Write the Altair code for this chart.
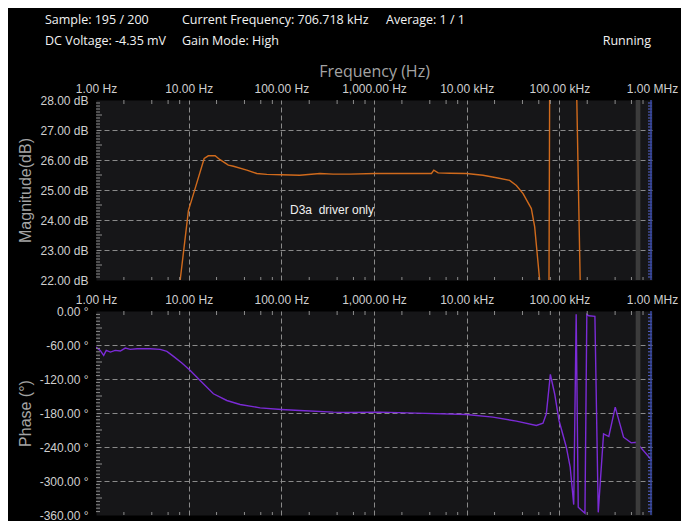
import altair as alt
import pandas as pd
import numpy as np

# ---------------- data ----------------
mag_freq = [6.2, 8.1, 9.95, 11.3, 14.7, 16.3, 19.3, 21.8, 26.8, 30.4, 42.4, 54.3, 69.6,
            100, 158, 261, 363, 550, 1020, 1610, 2880, 4170, 4420, 4920, 6580, 9950,
            15000, 21000, 29100, 34400, 40600, 49900, 54200, 61300, 66000, 76000,
            81000, 140000, 185000, 300000, 1000000]
mag_db = [19.0, 22.0, 24.32, 24.88, 26.05, 26.14, 26.14, 26.01, 25.83, 25.79, 25.66, 25.55, 25.52,
          25.51, 25.49, 25.55, 25.53, 25.53, 25.55, 25.55, 25.55, 25.55, 25.66, 25.57, 25.56, 25.55,
          25.49, 25.41, 25.32, 25.15, 24.88, 24.38, 23.77, 22.0, 18.0, 15.0,
          40.0, 35.0, 15.0, 10.0, 8.0]

phase_freq = [1.0, 1.11, 1.21, 1.29, 1.43, 1.61, 1.83, 2.07, 2.34, 2.77,
              3.85, 4.93, 5.82, 6.86, 8.45, 10.4, 13.3, 18.5, 25.8, 35.9,
              59, 100, 158, 363, 550, 1160, 2880, 9950, 19200, 34400,
              56500, 66600, 72400, 80000, 89000, 99200, 119000, 131000, 143000, 152000,
              160000, 189000, 198000, 208000, 242000, 263000, 300000, 342000, 401000, 493000,
              597000, 676000, 1000000]
phase_deg = [-63.6, -69.5, -78.3, -69.5, -72.5, -69.5, -70.7, -65.4, -67.7, -66.6,
             -66.6, -67.7, -71.3, -80.1, -91.9, -104.9, -122.5, -146.1, -157.9, -165.0,
             -170.9, -173.8, -175.6, -178.5, -179.1, -178.5, -180.3, -182.6, -187.3, -194.4,
             -202.0, -198.0, -181.5, -111.9, -146.0, -193.2, -240.4, -275.7, -341.6, -5.9,
             -346.4, -357.0, -5.9, -8.3, -9.4, -355.3, -216.8, -221.5, -169.7, -222.7,
             -232.7, -231.5, -263.9]

x_tick_values = [1, 10, 100, 1000, 10000, 100000, 1000000]
x_tick_labels = ["1.00 Hz", "10.00 Hz", "100.00 Hz", "1,000.00 Hz", "10.00 kHz", "100.00 kHz", "1.00 MHz"]
mag_ticks = [22, 23, 24, 25, 26, 27, 28]
phase_ticks = [-360, -300, -240, -180, -120, -60, 0]
current_freq = [706718]

note_text = ["D3a\u00a0 driver only"]
note_freq = [124]
note_db = [24.33]

header_row1 = ["Sample: 195 / 200", "Current Frequency: 706.718 kHz", "Average: 1 / 1"]
header_row2 = ["DC Voltage: -4.35 mV", "Gain Mode: High"]
status_text = ["Running"]

# ---------------- styling ----------------
W = 556
H_MAG = 180
H_PH = 204
PLOT_BG = "#161618"
GRID = "#8a8a8a"
TICK = "#8c8c8c"
LABEL = "#cfcfcf"
TITLE = "#a4a4a4"
ORANGE = "#d06a1c"
PURPLE = "#7b2bd6"
BLUE = "#5464d0"
MARK = "#3c3c3c"
AX_FONT = "Liberation Sans"
HD_FONT = "Open Sans"

xscale = alt.Scale(type="log", domain=[1, 1000000], nice=False)
label_expr = "[" + ",".join("'%s'" % s for s in x_tick_labels) + "][round(log(datum.value)/LN10)]"

x_minor = [m * 10 ** k for k in range(6) for m in (2, 4, 6, 8)]


def x_axis(with_title):
    kw = dict(orient="top", values=x_tick_values, tickCount=20, labelExpr=label_expr, ticks=False, domain=False,
              grid=True, gridColor=GRID, gridDash=[5, 3], gridWidth=1,
              gridOpacity={"condition": {"test": "datum.value < 2 || datum.value > 500000", "value": 0}, "value": 1},
              labelColor=LABEL, labelFont=AX_FONT, labelFontSize=12, labelPadding=5,
              labelFlush=False, labelOverlap=False)
    if with_title:
        kw.update(title="Frequency (Hz)", titleColor=TITLE, titleFont=HD_FONT, titleFontSize=16,
                  titleFontWeight="normal", titlePadding=3)
    return alt.Axis(**kw)


def y_axis(values, label_expr_y, title, lo, hi):
    return alt.Axis(values=values, tickCount=20, labelExpr=label_expr_y, ticks=False, domain=False,
                    grid=True, gridColor=GRID, gridDash=[5, 3], gridWidth=1,
                    gridOpacity={"condition": {"test": "datum.value <= %s || datum.value >= %s" % (lo, hi), "value": 0}, "value": 1},
                    labelColor=LABEL, labelFont=AX_FONT, labelFontSize=12, labelPadding=8,
                    labelOverlap=False, labelFlush=False,
                    title=title, titleColor=TITLE, titleFont=AX_FONT, titleFontSize=16,
                    titleFontWeight="normal", titlePadding=6)


def decorations(yscale, lo, hi, step, long_every, H):
    n = int(round((hi - lo) / step))
    vals = [round(lo + i * step, 3) for i in range(1, n)]
    major_step = (hi - lo) / 6.0
    short = [v for v in vals if abs(v / major_step - round(v / major_step)) > 1e-6 and abs((v / long_every) - round(v / long_every)) > 1e-6]
    long = [v for v in vals if abs(v / major_step - round(v / major_step)) > 1e-6 and abs((v / long_every) - round(v / long_every)) <= 1e-6]
    ydf_s = pd.DataFrame({"val": short})
    ydf_l = pd.DataFrame({"val": long})
    ydf_all = pd.DataFrame({"val": vals})
    xdf = pd.DataFrame({"freq": x_minor})
    y_enc = alt.Y("val:Q", scale=yscale)
    x_enc = alt.X("freq:Q", scale=xscale)
    layers = [
        alt.Chart(ydf_s).mark_rule(color=TICK, strokeWidth=1).encode(y=y_enc, x=alt.value(0), x2=alt.value(4)),
        alt.Chart(ydf_l).mark_rule(color=TICK, strokeWidth=1).encode(y=y_enc, x=alt.value(0), x2=alt.value(6)),
        alt.Chart(xdf).mark_rule(color=TICK, strokeWidth=1).encode(x=x_enc, y=alt.value(0), y2=alt.value(4)),
        alt.Chart(xdf).mark_rule(color=TICK, strokeWidth=1).encode(x=x_enc, y=alt.value(H - 3), y2=alt.value(H)),
        alt.Chart(ydf_all).mark_rule(color=BLUE, strokeWidth=1).encode(y=y_enc, x=alt.value(W - 4), x2=alt.value(W)),
        alt.Chart(pd.DataFrame({"val": [lo]})).mark_rule(color="#3848a0", strokeWidth=1.5).encode(
            y=alt.value(0), y2=alt.value(H), x=alt.value(W - 1)),
    ]
    return layers


def marker():
    return alt.Chart(pd.DataFrame({"freq": current_freq})).mark_rule(color=MARK, strokeWidth=4.7).encode(
        x=alt.X("freq:Q", scale=xscale))


def header_text(txt, px, py, align="left"):
    return alt.Chart(pd.DataFrame({"t": [txt]})).mark_text(
        align=align, baseline="alphabetic", font=HD_FONT, fontSize=12.5, color="#f2f2f2").encode(
        text="t:N", x=alt.value(px), y=alt.value(py))


# ---------------- magnitude panel ----------------
mag_yscale = alt.Scale(domain=[22, 28], nice=False, zero=False)
mag_df = pd.DataFrame({"freq": mag_freq, "val": mag_db})

mag_line = alt.Chart(mag_df).mark_line(color=ORANGE, strokeWidth=1.4, clip=True).encode(
    x=alt.X("freq:Q", scale=xscale, axis=x_axis(True), title="Frequency (Hz)"),
    y=alt.Y("val:Q", scale=mag_yscale, title="Magnitude(dB)",
            axis=y_axis(mag_ticks, "format(datum.value, '.2f') + ' dB'", "Magnitude(dB)", 22, 28)),
    order="index:Q",
).transform_window(index="row_number()")

note = alt.Chart(pd.DataFrame({"freq": note_freq, "val": note_db, "t": note_text})).mark_text(
    align="left", baseline="middle", font=AX_FONT, fontSize=12, color="#f0f0f0").encode(
    x=alt.X("freq:Q", scale=xscale),
    y=alt.Y("val:Q", scale=mag_yscale),
    text="t:N")

headers = [
    header_text(header_row1[0], -51, -76),
    header_text(header_row1[1], 86, -76),
    header_text(header_row1[2], 290, -76),
    header_text(header_row2[0], -51, -55.5),
    header_text(header_row2[1], 86, -55.5),
    header_text(status_text[0], W - 1, -55.5, align="right"),
]

mag_chart = alt.layer(
    mag_line, marker(), *decorations(mag_yscale, 22, 28, 0.1, 0.5, H_MAG), note, *headers
).properties(width=W, height=H_MAG)

# ---------------- phase panel ----------------
ph_yscale = alt.Scale(domain=[-360, 0], nice=False, zero=False)
ph_df = pd.DataFrame({"freq": phase_freq, "val": phase_deg})

ph_line = alt.Chart(ph_df).mark_line(color=PURPLE, strokeWidth=1.4, clip=True).encode(
    x=alt.X("freq:Q", scale=xscale, axis=x_axis(False), title=None),
    y=alt.Y("val:Q", scale=ph_yscale, title="Phase (°)",
            axis=y_axis(phase_ticks, "(datum.value < 0 ? '-' : '') + format(abs(datum.value), '.2f') + ' °'",
                        "Phase (°)", -360, 0)),
    order="index:Q",
).transform_window(index="row_number()")

ph_chart = alt.layer(
    ph_line, marker(), *decorations(ph_yscale, -360, 0, 6, 30, H_PH)
).properties(width=W, height=H_PH)

chart = alt.vconcat(mag_chart, ph_chart, spacing=5).properties(
    padding={"left": 8, "top": 5, "right": 2, "bottom": -1}
).configure(background="#000000").configure_view(fill=PLOT_BG, stroke="transparent")

chart.save("out.html", embed_options={"renderer": "svg", "actions": False})
